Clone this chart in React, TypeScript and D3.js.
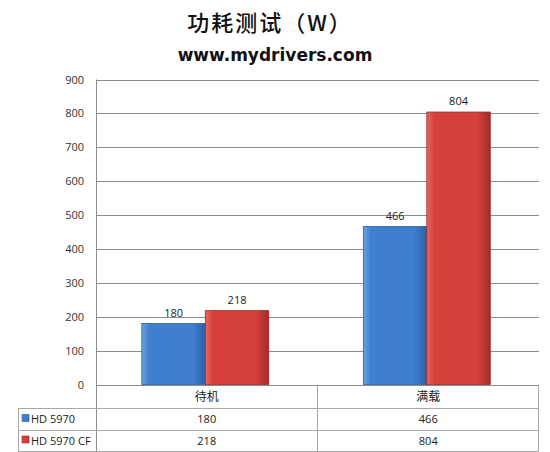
import React, { useEffect, useRef } from 'react';
import * as d3 from 'd3';

// chart data
const categories = ['待机', '满载'];
const seriesNames = ['HD 5970', 'HD 5970 CF'];
const hd5970 = [180, 466];
const hd5970cf = [218, 804];
const yTicks = [0, 100, 200, 300, 400, 500, 600, 700, 800, 900];

const W = 550;
const H = 452;

const App = () => {
  const svgRef = useRef<SVGSVGElement>(null);

  useEffect(() => {
    if (!svgRef.current) return;
    const svg = d3.select(svgRef.current);
    svg.selectAll('*').remove();

    const font = '"Open Sans", "Noto Sans CJK SC", sans-serif';
    const left = 96;
    const right = 539;
    const top = 79.5;
    const bottom = 384.5;
    const rowH = [bottom, 408, 430, 451];
    const legendLeft = 18;

    const series = [hd5970, hd5970cf];
    const colors = [
      ['#6aa2e2', '#3f7fcf', '#2a5fa6'],
      ['#e8675f', '#d5403b', '#a52a26'],
    ];
    const strokes = ['#2c5d99', '#9a2a26'];

    const defs = svg.append('defs');
    colors.forEach((c, i) => {
      const g = defs.append('linearGradient')
        .attr('id', `grad${i}`)
        .attr('x1', '0%').attr('x2', '100%')
        .attr('y1', '0%').attr('y2', '0%');
      g.append('stop').attr('offset', '0%').attr('stop-color', c[0]);
      g.append('stop').attr('offset', '12%').attr('stop-color', c[1]);
      g.append('stop').attr('offset', '80%').attr('stop-color', c[1]);
      g.append('stop').attr('offset', '100%').attr('stop-color', c[2]);
    });

    const x0 = d3.scaleBand<string>()
      .domain(categories)
      .range([left, right])
      .padding(0);

    const bw = x0.bandwidth();
    const x1 = d3.scaleBand<string>()
      .domain(seriesNames)
      .range([bw * 0.207, bw * 0.78])
      .padding(0);

    const y = d3.scaleLinear()
      .domain([0, 900])
      .range([bottom, top]);

    // title
    svg.append('text')
      .attr('x', 270).attr('y', 31)
      .attr('text-anchor', 'middle')
      .attr('font-family', '"Noto Sans CJK SC", sans-serif')
      .attr('font-size', 22)
      .attr('font-weight', 500)
      .attr('letter-spacing', 2)
      .attr('fill', '#111')
      .text('功耗测试（W）');

    svg.append('text')
      .attr('x', 275).attr('y', 61)
      .attr('text-anchor', 'middle')
      .attr('font-family', '"DejaVu Sans", sans-serif')
      .attr('font-size', 17)
      .attr('font-weight', 'bold')
      .attr('fill', '#111')
      .text('www.mydrivers.com');

    // gridlines
    svg.append('g')
      .selectAll('line')
      .data(yTicks)
      .enter()
      .append('line')
      .attr('x1', left).attr('x2', right)
      .attr('y1', d => Math.round(y(d)) + 0.5)
      .attr('y2', d => Math.round(y(d)) + 0.5)
      .attr('stroke', '#8c8c8c')
      .attr('stroke-width', 1);

    // y labels
    svg.append('g')
      .selectAll('text')
      .data(yTicks)
      .enter()
      .append('text')
      .attr('x', 84)
      .attr('y', d => y(d) + 4)
      .attr('text-anchor', 'end')
      .attr('font-family', font)
      .attr('font-size', 11)
      .attr('fill', '#333')
      .text(d => d);

    // bars
    series.forEach((vals, i) => {
      const g = svg.append('g');
      g.selectAll('rect')
        .data(vals)
        .enter()
        .append('rect')
        .attr('x', (d, j) => (x0(categories[j]) || 0) + (x1(seriesNames[i]) || 0))
        .attr('y', d => y(d))
        .attr('width', x1.bandwidth())
        .attr('height', d => y(0) - y(d))
        .attr('fill', `url(#grad${i})`)
        .attr('stroke', strokes[i])
        .attr('stroke-width', 0.8);

      g.selectAll('text')
        .data(vals)
        .enter()
        .append('text')
        .attr('x', (d, j) => (x0(categories[j]) || 0) + (x1(seriesNames[i]) || 0) + x1.bandwidth() / 2)
        .attr('y', d => y(d) - 7)
        .attr('text-anchor', 'middle')
        .attr('font-family', font)
        .attr('font-size', 11)
        .attr('fill', '#222')
        .text(d => d);
    });

    // axis line
    svg.append('line')
      .attr('x1', left + 0.5).attr('x2', left + 0.5)
      .attr('y1', top).attr('y2', rowH[3])
      .attr('stroke', '#8c8c8c');

    // data table
    const tbl = svg.append('g').attr('stroke', '#a8a8a8').attr('stroke-width', 1);
    rowH.slice(1).forEach(r => {
      tbl.append('line')
        .attr('x1', legendLeft).attr('x2', right)
        .attr('y1', r + 0.5).attr('y2', r + 0.5);
    });
    tbl.append('line')
      .attr('x1', legendLeft + 0.5).attr('x2', legendLeft + 0.5)
      .attr('y1', rowH[1]).attr('y2', rowH[3]);
    categories.forEach(c => {
      const xe = (x0(c) || 0) + bw;
      tbl.append('line')
        .attr('x1', Math.round(xe) - 0.5).attr('x2', Math.round(xe) - 0.5)
        .attr('y1', bottom).attr('y2', rowH[3]);
    });

    svg.append('g')
      .selectAll('text')
      .data(categories)
      .enter()
      .append('text')
      .attr('x', d => (x0(d) || 0) + bw / 2)
      .attr('y', (rowH[0] + rowH[1]) / 2 + 5)
      .attr('text-anchor', 'middle')
      .attr('font-family', '"Noto Sans CJK SC", sans-serif')
      .attr('font-size', 12)
      .attr('fill', '#222')
      .text(d => d);

    series.forEach((vals, i) => {
      const cy = (rowH[i + 1] + rowH[i + 2]) / 2;
      svg.append('rect')
        .attr('x', 22).attr('y', cy - 4.5)
        .attr('width', 7).attr('height', 7)
        .attr('fill', `url(#grad${i})`)
        .attr('stroke', strokes[i])
        .attr('stroke-width', 0.6);
      svg.append('text')
        .attr('x', 31).attr('y', cy + 4)
        .attr('font-family', font)
        .attr('font-size', 11)
        .attr('fill', '#222')
        .text(seriesNames[i]);
      svg.append('g')
        .selectAll('text')
        .data(vals)
        .enter()
        .append('text')
        .attr('x', (d, j) => (x0(categories[j]) || 0) + bw / 2)
        .attr('y', cy + 4)
        .attr('text-anchor', 'middle')
        .attr('font-family', font)
        .attr('font-size', 11)
        .attr('fill', '#222')
        .text(d => d);
    });
  }, []);

  return (
    <svg
      ref={svgRef}
      width={W}
      height={H}
      style={{ position: 'absolute', left: 0, top: 0, background: '#fff' }}
    />
  );
};

export default App;
